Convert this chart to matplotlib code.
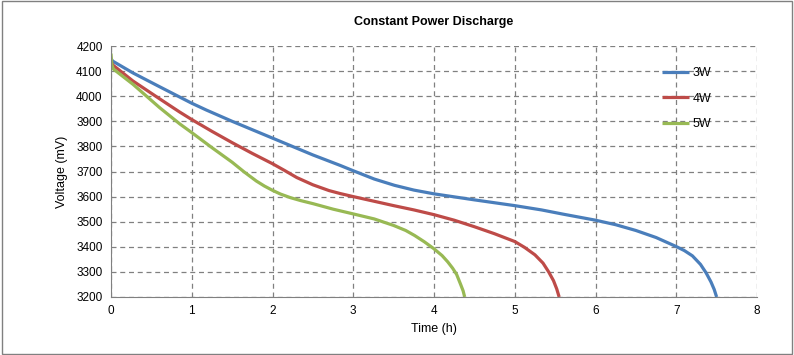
import matplotlib.pyplot as plt
import numpy as np

plt.rcParams['font.family'] = ['Liberation Sans', 'DejaVu Sans']

# 3W
t_3w = [0, 0.02, 0.27, 0.6, 1.0, 1.18, 1.5, 2.0, 2.5, 2.84, 3.0, 3.26, 3.51, 3.75, 4.0, 4.5, 5.0, 5.33,
        5.6, 6.0, 6.25, 6.5, 6.75, 7.0, 7.1, 7.2, 7.3, 7.37, 7.43, 7.47, 7.5]
v_3w = [4150, 4140, 4093, 4038, 3972, 3945, 3900, 3833, 3766, 3724, 3703, 3670, 3645, 3626, 3611, 3587, 3564, 3547,
        3530, 3506, 3488, 3465, 3437, 3401, 3385, 3364, 3330, 3296, 3260, 3230, 3200]
# 4W
t_4w = [0, 0.02, 0.27, 0.6, 0.85, 1.0, 1.25, 1.5, 1.75, 2.0, 2.15, 2.3, 2.5, 2.7, 2.84, 3.0, 3.25, 3.5,
        3.75, 4.0, 4.25, 4.5, 4.75, 5.0, 5.12, 5.25, 5.35, 5.42, 5.48, 5.52, 5.55]
v_4w = [4140, 4125, 4061, 3990, 3937, 3907, 3860, 3815, 3772, 3731, 3704, 3676, 3647, 3624, 3612, 3600, 3582, 3564,
        3547, 3528, 3506, 3480, 3452, 3421, 3398, 3368, 3335, 3300, 3265, 3232, 3200]
# 5W
t_5w = [0, 0.01, 0.03, 0.27, 0.6, 0.85, 1.0, 1.25, 1.5, 1.65, 1.8, 1.9, 2.0, 2.1, 2.22, 2.35, 2.5, 2.75,
        3.0, 3.26, 3.5, 3.65, 3.76, 3.88, 4.0, 4.1, 4.17, 4.23, 4.28, 4.33, 4.36, 4.38]
v_5w = [4170, 4125, 4108, 4048, 3955, 3890, 3855, 3795, 3737, 3698, 3662, 3642, 3625, 3610, 3596, 3584, 3572, 3550,
        3531, 3511, 3485, 3465, 3445, 3420, 3392, 3365, 3340, 3315, 3290, 3250, 3225, 3200]

series = [("3W", t_3w, v_3w, "#4A7EBB"),
          ("4W", t_4w, v_4w, "#BE4B48"),
          ("5W", t_5w, v_5w, "#98B954")]

fig = plt.figure(figsize=(7.94, 3.55), dpi=100)
ax = fig.add_axes([0.1398, 0.1634, 0.8136, 0.707])

for name, t, v, c in series:
    ax.plot(t, v, color=c, lw=2.3, label=name, solid_capstyle="butt", solid_joinstyle="round")

ax.set_xlim(0, 8)
ax.set_ylim(3200, 4200)
ax.set_xticks(range(0, 9))
ax.set_yticks(range(3200, 4201, 100))
ax.grid(True, color="#808080", linestyle=(0, (4, 3)), linewidth=0.9)
ax.tick_params(length=0, labelsize=8.5, pad=6)
for s in ["top", "right"]:
    ax.spines[s].set_visible(False)
for s in ["left", "bottom"]:
    ax.spines[s].set_color("#808080")
ax.set_xlabel("Time (h)", fontsize=9, labelpad=4)
ax.set_ylabel("Voltage (mV)", fontsize=9, labelpad=6)
ax.set_title("Constant Power Discharge", fontsize=9, fontweight="bold", pad=15)

ax.legend(loc="upper left", bbox_to_anchor=(0.836, 0.96), frameon=False, fontsize=9,
          handlelength=2.1, handletextpad=0.35, labelspacing=1.08)

fig.patches.append(plt.Rectangle((0.002, 0.003), 0.995, 0.993, transform=fig.transFigure,
                                 fill=False, edgecolor="#808080", lw=1))

fig.savefig("out.png", dpi=100)
